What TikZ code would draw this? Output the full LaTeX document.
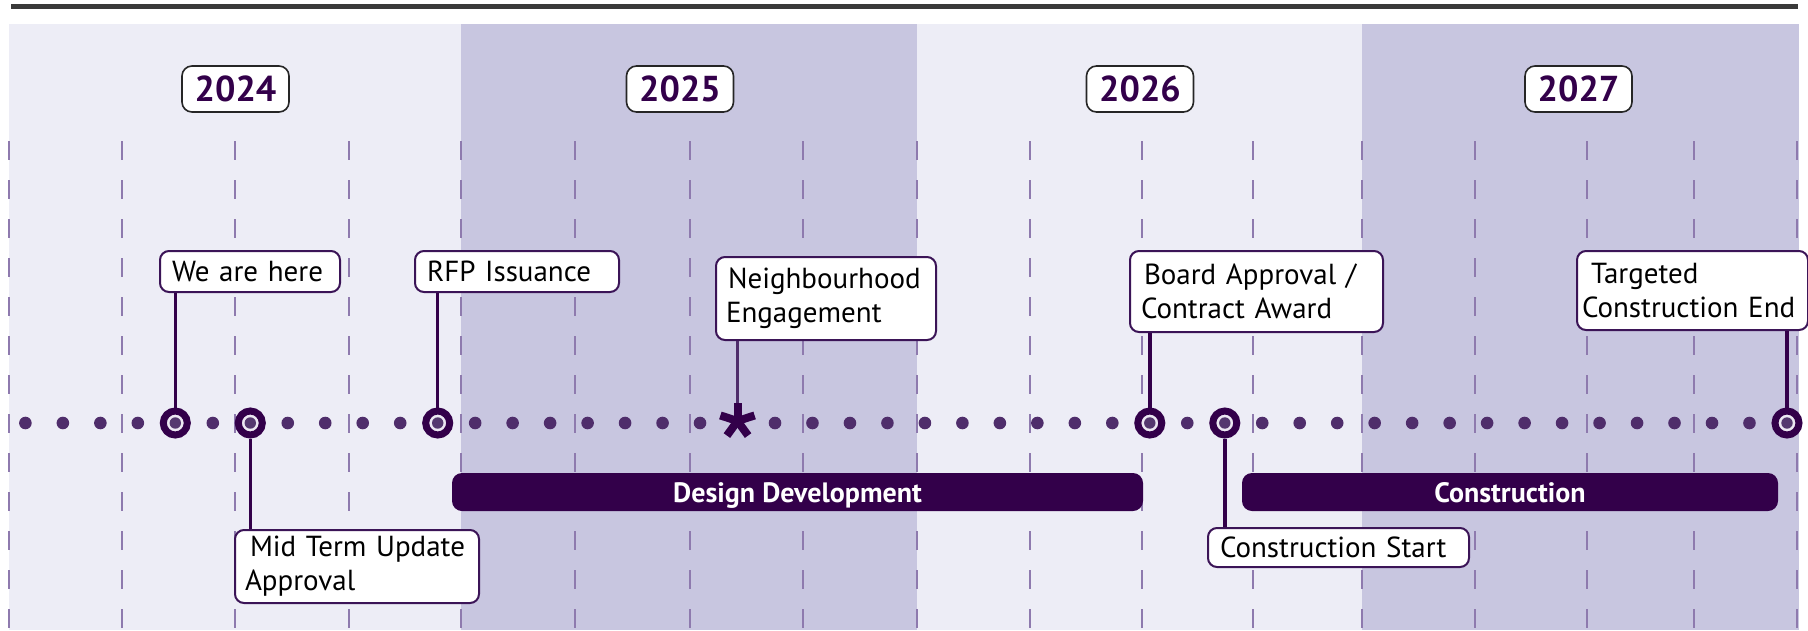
\documentclass[tikz,border=0pt]{standalone}
\usepackage{fontspec}
\setmainfont{PT Sans}
\usetikzlibrary{calc}
\definecolor{bandlight}{HTML}{EDEDF6}
\definecolor{banddark}{HTML}{C8C6E0}
\definecolor{gridc}{HTML}{8E7AAE}
\definecolor{deep}{HTML}{33004A}
\definecolor{dotc}{HTML}{4F2D6B}
\definecolor{ringlight}{HTML}{ECE8F2}
\definecolor{ringdot}{HTML}{55386F}
\definecolor{topc}{HTML}{3A3A3A}
\definecolor{boxline}{HTML}{3B1457}
\begin{document}
\begin{tikzpicture}[x=1pt,y=-1pt,
  gridline/.style={draw=gridc, line width=2pt, dash pattern=on 19pt off 20pt},
  yearbox/.style={draw=black!85, line width=1.6pt, fill=white, rounded corners=10pt,
    minimum width=107pt, minimum height=46pt, inner sep=0pt, text=deep,
    text height=25pt, text depth=0pt,
    font=\fontsize{36}{40}\selectfont\bfseries},
  lbl/.style={draw=boxline, line width=2pt, fill=white, rounded corners=9pt,
    inner xsep=12pt, inner ysep=2pt, align=left, text=black,
    font=\fontsize{29}{34}\selectfont},
  bar/.style={fill=deep, rounded corners=10pt, minimum height=38pt, inner sep=0pt,
    text height=20pt, text depth=0pt,
    text=white, font=\fontsize{28}{32}\selectfont\bfseries},
  ring/.style={circle, draw=deep, line width=7pt, fill=ringlight, minimum size=24pt,
    inner sep=0pt, path picture={\fill[ringdot] (path picture bounding box.center) circle (5.7pt);}},
  conn/.style={draw=deep, line width=3.5pt},
  thinconn/.style={draw=dotc, line width=2.8pt},
  starc/.style={draw=deep, line width=8pt}
]
\useasboundingbox (0,0) rectangle (1808,630);
% top rule
\draw[topc, line width=5pt] (11,6) -- (1798,6);
% year bands
\fill[bandlight] (9,24) rectangle (461,630);
\fill[banddark] (461,24) rectangle (917,630);
\fill[bandlight] (917,24) rectangle (1362,630);
\fill[banddark] (1362,24) rectangle (1799,630);
% quarter grid
\foreach \x in {9,122,235,349,461,575,690,803,917,1030,1142,1253,1362,1475,1587,1694,1797}
  \draw[gridline] (\x,141) -- (\x,630);
% year labels
\node[yearbox] (y24) at (235.5,89) {2024};
\node[yearbox] (y25) at (680,89) {2025};
\node[yearbox] (y26) at (1140,89) {2026};
\node[yearbox] (y27) at (1578.5,89) {2027};
% timeline dots
\foreach \k in {0,1,2,3,5,7,8,9,10,12,13,14,15,16,17,18,20,21,22,23,24,25,26,27,28,29,31,33,34,35,36,37,38,39,40,41,42,43,44,45,46}
  \fill[dotc] ({25.4+37.48*\k},423) circle (6.3pt);
% phase bars
\node[bar, minimum width=691pt] (dd) at (797.5,492) {Design Development};
\node[bar, minimum width=536pt] (cons) at (1510,492) {Construction};
% label boxes
\node[lbl, minimum width=180pt, minimum height=41pt, text width=156pt] (we) at (250,271.5) {We are here};
\node[lbl, minimum width=204pt, minimum height=41pt, text width=180pt] (rfp) at (517,271.5) {RFP Issuance};
\node[lbl, minimum width=220pt, minimum height=83pt, text width=200pt, inner xsep=10pt] (nb) at (826,298.5) {\hspace*{2pt}Neighbourhood\\Engagement};
\node[lbl, minimum width=253pt, minimum height=81pt, text width=231pt, inner xsep=11pt] (board) at (1256.5,291.5) {\hspace*{3pt}Board Approval /\\Contract Award};
\node[lbl, minimum width=231pt, minimum height=79pt, text width=221pt, inner xsep=5pt] (tgt) at (1692.5,290.5) {\hspace*{9pt}Targeted\\Construction End};
\node[lbl, minimum width=244pt, minimum height=73pt, text width=224pt, inner xsep=10pt] (mid) at (357,566.5) {\hspace*{5pt}Mid Term Update\\Approval};
\node[lbl, minimum width=261pt, minimum height=39pt, text width=237pt] (cs) at (1338.5,547.5) {Construction Start};
% event markers
\node[ring] (e1) at (175.3,423) {};
\node[ring] (e2) at (250.3,423) {};
\node[ring] (e3) at (437.7,423) {};
\node[ring] (e5) at (1149.8,423) {};
\node[ring] (e6) at (1224.8,423) {};
\node[ring] (e7) at (1787,423) {};
\coordinate (st) at (737.5,421);
% connectors
\draw[conn] (e1.north) -- (e1 |- we.south);
\draw[conn] (e2.south) -- (e2 |- mid.north);
\draw[conn] (e3.north) -- (e3 |- rfp.south);
\draw[conn] (e5.north) -- (e5 |- board.south);
\draw[conn] (e6.south) -- (e6 |- cs.north);
\draw[conn] (e7.north) -- (e7 |- tgt.south);
\draw[thinconn] (st |- nb.south) -- (st);
% star marker
\foreach \a in {90,18,162,234,306}
  \draw[starc] (st) -- ++(\a:18pt);
\end{tikzpicture}
\end{document}
